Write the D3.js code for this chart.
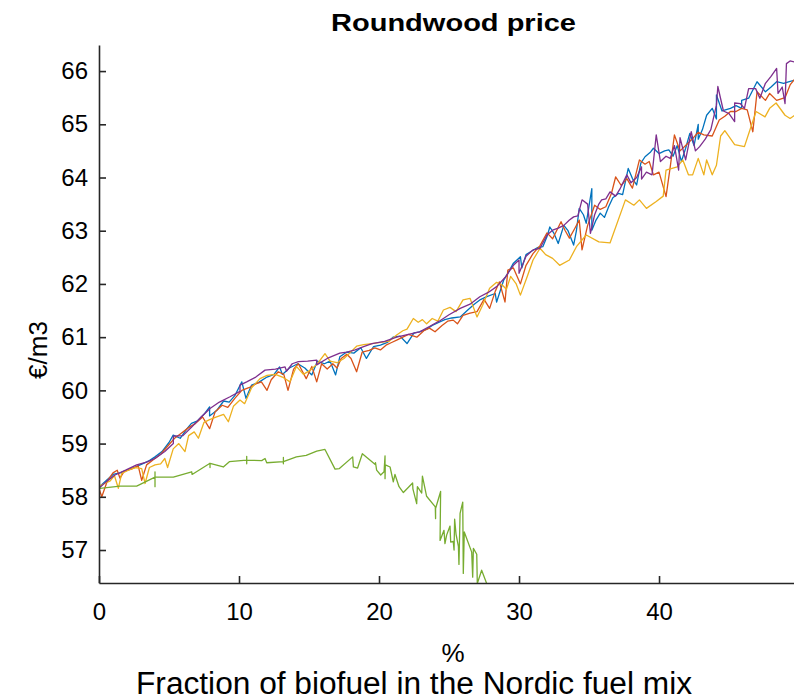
<!DOCTYPE html>
<html><head><meta charset="utf-8">
<script src="https://cdn.jsdelivr.net/npm/d3@7"></script>
<style>body{margin:0;background:#fff}svg{display:block}text{font-family:"Liberation Sans",Arial,sans-serif;fill:#000}</style>
</head><body><svg id="c" width="794" height="700"></svg>
<script>
const xTicks=[0,10,20,30,40];
const yTicks=[57,58,59,60,61,62,63,64,65,66];
const seriesNames=["s1","s2","s3","s4","s5"];
const seriesColors=["#0072BD","#D95319","#EDB120","#7E2F8E","#77AC30"];

const blueX=[0,0,0.5,1.0,1.5,2.0,2.6,3.1,3.6,4.0,4.5,5.0,5.3,5.8,6.2,6.6,7.0,7.5,7.9,7.9,8.4,8.9,9.3,9.7,10.2,10.5,10.9,11.4,12.0,12.5,12.9,13.1,13.6,14.2,14.7,15.2,15.6,16.1,16.5,16.9,17.2,17.7,18.2,18.7,19.1,19.6,20.1,20.6,21.0,21.5,22.0,22.5,22.9,23.4,23.8,24.3,24.7,25.2,25.8,26.3,26.8,27.2,27.7,28.3,28.4,28.9,29.2,29.6,30.1,30.2,30.5,30.8,31.3,31.7,32.0,32.2,32.5,32.8,33.2,33.5,33.9,34.1,34.3,34.6,34.8,35.2,35.2,35.5,35.8,36.1,36.4,36.7,37.1,37.4,37.8,38.1,38.4,38.7,39.0,39.4,39.6,40.0,40.4,40.7,41.0,41.3,41.6,41.9,42.2,42.5,42.8,42.8,43.1,43.4,43.8,44.1,44.1,44.5,45.1,45.5,45.9,45.9,46.4,47.0,47.6,48.0,48.4,48.9,49.3,49.7];
const blueY=[57.95,58.18,58.3,58.42,58.45,58.5,58.56,58.62,58.68,58.75,58.85,59.02,59.16,59.1,59.25,59.38,59.42,59.55,59.69,59.52,59.62,59.8,59.78,59.9,60.16,59.85,60.1,60.15,60.25,60.3,60.44,60.3,60.42,60.5,60.42,60.29,60.55,60.5,60.55,60.29,60.63,60.72,60.7,60.8,60.6,60.82,60.85,60.9,61.0,61.02,60.88,61.08,61.1,61.15,61.22,61.28,61.33,61.36,61.38,61.5,61.62,61.7,61.76,61.82,61.66,62.07,62.2,62.39,62.51,62.3,62.55,62.6,62.68,62.7,62.89,63.07,62.95,62.76,63.1,63.0,62.73,63.0,63.42,63.3,63.14,63.79,63.01,63.2,63.33,63.25,63.45,63.62,63.7,63.68,64.17,63.98,63.86,64.27,64.39,64.48,64.55,64.45,64.5,64.52,64.4,64.6,64.3,64.55,64.83,64.6,65.0,64.72,64.9,65.17,65.3,65.1,65.55,65.25,65.3,65.35,65.3,65.45,65.49,65.8,65.61,65.7,65.8,65.77,65.8,65.83];

const orangeX=[0,0.2,0.6,1.0,1.3,1.5,1.8,2.3,2.8,3.05,3.4,3.9,4.4,4.9,5.4,5.9,6.4,6.9,7.4,7.9,8.3,8.8,9.2,9.7,10.2,10.7,11.2,11.6,12.0,12.3,12.8,13.2,13.5,13.9,14.24,14.8,15.2,15.55,15.9,16.3,16.7,17.0,17.3,17.7,18.0,18.4,18.8,19.3,19.7,20.1,20.5,20.9,21.3,21.7,22.1,22.7,23.2,23.6,24.0,24.5,24.9,25.3,25.6,26.0,26.5,27.0,27.5,27.9,28.3,28.6,29.0,29.2,29.6,30.1,30.5,31.0,31.5,32.0,32.4,33.0,33.3,33.6,34.0,34.3,34.5,34.9,35.4,35.8,36.2,36.6,36.9,37.3,37.7,38.1,38.6,39.0,39.3,39.6,40.0,40.5,40.8,41.1,41.5,41.9,42.4,42.8,43.2,43.8,44.3,44.7,45.1,45.5,45.9,46.3,46.7,47.0,47.6,47.9,48.4,49.0,49.36,49.7];
const orangeY=[58.15,58.0,58.3,58.45,58.5,58.35,58.48,58.52,58.58,58.31,58.6,58.7,58.8,58.95,59.1,59.2,59.3,59.38,59.5,59.28,59.6,59.72,59.68,59.85,60.0,60.05,60.12,60.16,60.0,60.2,60.35,60.3,60.0,60.4,60.5,60.22,60.45,60.16,60.5,60.4,60.5,60.42,60.6,60.68,60.6,60.35,60.72,60.75,60.8,60.76,60.85,60.9,60.95,61.0,61.05,61.0,61.12,61.17,61.1,61.22,61.3,61.32,61.25,61.41,61.45,61.48,61.71,61.54,61.86,62.04,61.66,62.26,62.3,62.0,62.35,62.57,62.72,62.96,62.85,63.17,63.0,62.86,63.05,63.2,62.64,63.1,63.48,63.4,63.45,63.7,64.01,63.85,63.98,63.8,64.33,64.25,64.3,64.05,64.1,63.64,64.2,64.8,64.5,64.6,64.73,64.85,64.8,64.78,65.08,65.15,65.24,65.24,65.3,65.27,64.86,65.61,65.45,65.58,65.45,65.5,65.74,65.85];

const yellowX=[0,0.4,0.8,1.1,1.38,1.62,2.1,2.6,3.05,3.29,3.6,4.0,4.4,4.7,4.9,5.3,5.7,6.14,6.4,6.8,7.1,7.5,7.9,8.4,8.9,9.24,9.6,10.07,10.4,10.9,11.5,12.0,12.6,13.1,13.64,14.1,14.6,15.1,15.6,16.14,16.5,17.0,17.5,17.9,18.4,18.9,19.5,20.1,20.7,21.26,21.7,22.0,22.45,22.8,23.1,23.4,23.8,24.2,24.6,25.07,25.5,26.0,26.5,27.0,27.4,27.9,28.4,28.8,29.1,29.4,29.8,30.1,30.6,31.0,31.5,31.9,32.4,32.9,33.6,34.1,34.8,35.7,36.5,37.6,38.2,38.6,39.1,39.8,40.3,40.5,41.3,41.7,42.1,42.4,42.8,43.2,43.4,43.8,44.1,44.4,44.7,45.4,46.1,46.45,46.93,47.57,47.9,48.36,49.0,49.36,49.7];
const yellowY=[58.2,58.25,58.3,58.4,58.16,58.44,58.5,58.55,58.53,58.25,58.55,58.6,58.62,58.72,58.55,58.9,59.0,58.85,59.15,59.22,59.1,59.4,59.45,59.5,59.55,59.41,59.7,59.82,59.75,60.05,60.22,60.28,60.3,60.25,60.16,60.45,60.3,60.38,60.5,60.69,60.55,60.52,60.6,60.7,60.83,60.86,60.88,60.9,60.92,61.04,61.12,61.15,61.35,61.28,61.33,61.25,61.35,61.3,61.51,61.56,61.48,61.7,61.73,61.38,61.6,61.92,62.03,61.98,61.9,62.14,62.0,61.79,62.15,62.45,62.67,62.55,62.48,62.35,62.45,62.7,62.92,62.79,62.77,63.58,63.48,63.58,63.42,63.55,63.65,64.14,64.2,64.33,64.05,64.05,64.36,64.05,64.33,64.05,64.23,64.78,64.88,64.62,64.58,64.86,65.24,65.14,65.3,65.4,65.17,65.11,65.17];

const purpleX=[0,0.5,1.14,1.9,2.69,3.4,4.0,4.7,5.31,5.31,6.0,6.62,7.3,7.93,8.6,9.36,10.07,10.07,10.55,11.2,11.86,12.6,13.29,13.4,13.8,14.24,14.9,15.55,15.55,16.3,17.2,17.7,18.3,18.9,19.5,20.4,21.26,22.1,22.9,23.6,24.3,25.0,25.8,26.5,27.2,27.8,28.4,29.0,29.6,30.0,30.0,30.5,31.0,31.5,32.0,32.4,32.8,33.2,33.6,33.9,34.2,34.5,34.9,35.1,35.4,35.7,35.9,36.2,36.5,36.9,37.2,37.7,38.0,38.4,38.75,38.75,39.1,39.5,39.8,40.1,40.5,40.8,41.1,41.4,41.5,41.9,42.3,42.6,42.9,43.3,43.7,44.1,44.2,44.6,45.0,45.4,45.4,45.8,46.1,46.4,46.9,47.2,47.6,48.0,48.4,48.5,48.8,49.0,49.1,49.36,49.7];
const purpleY=[58.16,58.28,58.41,58.5,58.6,58.65,58.72,58.85,59.0,59.14,59.15,59.31,59.5,59.66,59.78,59.88,59.98,60.1,60.16,60.25,60.38,60.4,60.44,60.36,60.5,60.54,60.55,60.57,60.48,60.6,60.7,60.72,60.76,60.82,60.88,60.92,61.0,61.05,61.1,61.2,61.3,61.42,61.54,61.62,61.76,61.84,61.95,62.12,62.35,62.45,62.2,62.52,62.64,62.67,62.92,63.01,63.05,63.1,63.2,63.26,63.28,63.58,63.5,62.95,63.3,63.5,63.58,63.6,63.73,63.65,63.78,64.05,63.9,64.0,64.2,63.97,64.1,64.05,64.8,64.3,64.4,64.36,64.6,64.14,64.75,64.33,64.86,64.5,64.58,64.72,64.9,65.36,65.71,65.25,65.2,65.05,65.4,65.39,65.3,65.67,65.67,65.49,65.77,65.9,66.05,65.58,65.7,65.39,66.14,66.19,66.17];

const greenX=[0.07,1.5,2.69,4.0,4.0,4.0,4.0,5.31,6.62,6.65,7.93,7.93,7.93,8.88,9.31,10.55,10.55,10.55,10.55,11.62,11.86,11.98,13.17,13.17,13.17,13.17,14.1,14.8,15.55,16.14,16.86,17.17,18.12,18.17,18.47,18.81,19.71,19.75,19.83,20.12,20.36,20.43,20.43,20.45,20.79,21.02,21.14,21.43,21.74,22.4,22.42,22.69,22.74,23.05,23.1,23.4,24.02,24.04,24.04,24.4,24.36,24.64,24.71,24.83,25.07,25.12,25.3,25.36,25.4,25.5,25.67,25.71,25.79,25.98,26.02,26.09,26.62,26.69,26.74,26.98,27.02,27.33,27.69,27.9];
const greenY=[58.16,58.2,58.2,58.37,58.47,58.19,58.37,58.37,58.47,58.42,58.63,58.55,58.63,58.56,58.66,58.69,58.76,58.62,58.69,58.68,58.72,58.64,58.66,58.74,58.62,58.66,58.75,58.78,58.86,58.89,58.52,58.53,58.75,58.56,58.54,58.81,58.61,58.64,58.5,58.41,58.47,58.77,58.34,58.6,58.56,58.28,58.42,58.19,58.08,58.26,58.15,57.87,58.19,58.07,58.39,58.01,57.81,57.59,57.78,58.1,57.18,57.37,57.12,57.28,57.45,57.15,57.16,57.0,57.58,57.3,57.07,56.73,57.69,57.9,56.56,57.34,56.96,56.49,57.03,56.92,56.37,56.62,56.37,56.2];

const seriesX=[blueX,orangeX,yellowX,purpleX,greenX];
const seriesY=[blueY,orangeY,yellowY,purpleY,greenY];

const svg=d3.select("#c");
const L=99,R=794,T=45,B=583;
const x=d3.scaleLinear().domain([0,49.64]).range([L,R]);
const y=d3.scaleLinear().domain([56.38,66.49]).range([B,T]);

svg.append("defs").append("clipPath").attr("id","clip").append("rect")
  .attr("x",L).attr("y",T).attr("width",R-L).attr("height",B-T);

const g=svg.append("g").attr("clip-path","url(#clip)");
const line=d3.line().x(d=>x(d[0])).y(d=>y(d[1]));
[0,1,2,3,4].forEach(i=>{
  const pts=seriesX[i].map((v,j)=>[v,seriesY[i][j]]);
  g.append("path").datum(pts).attr("d",line).attr("fill","none")
   .attr("stroke",seriesColors[i]).attr("stroke-width",1.3).attr("stroke-linejoin","round");
});

const ax=svg.append("g").attr("transform",`translate(0,${B})`)
  .call(d3.axisBottom(x).tickValues(xTicks).tickSize(-7).tickPadding(20).tickSizeOuter(0));
const ay=svg.append("g").attr("transform",`translate(${L},0)`)
  .call(d3.axisLeft(y).tickValues(yTicks).tickSize(-7).tickPadding(11).tickSizeOuter(0));
[ax,ay].forEach(a=>{
  a.select(".domain").attr("stroke","#262626").attr("stroke-width",1.6);
  a.selectAll(".tick line").attr("stroke","#262626").attr("stroke-width",1.6);
  a.selectAll(".tick text").attr("font-size",24).attr("fill","#262626").attr("font-family","Liberation Sans, Arial, sans-serif");
});
ax.selectAll(".tick text").attr("dy","0.71em");

svg.append("text").attr("x",453.5).attr("y",31).attr("text-anchor","middle")
  .attr("font-size",24).attr("font-weight","bold").attr("textLength",245).attr("lengthAdjust","spacingAndGlyphs").text("Roundwood price");
svg.append("text").attr("x",453).attr("y",662).attr("text-anchor","middle")
  .attr("font-size",26).attr("fill","#262626").text("%");
svg.append("text").attr("x",414).attr("y",694).attr("text-anchor","middle")
  .attr("font-size",31).attr("textLength",556).attr("lengthAdjust","spacingAndGlyphs").text("Fraction of biofuel in the Nordic fuel mix");
svg.append("text").attr("transform","translate(47,350) rotate(-90)").attr("text-anchor","middle")
  .attr("font-size",26).attr("fill","#262626").text("€/m3");
</script></body></html>
